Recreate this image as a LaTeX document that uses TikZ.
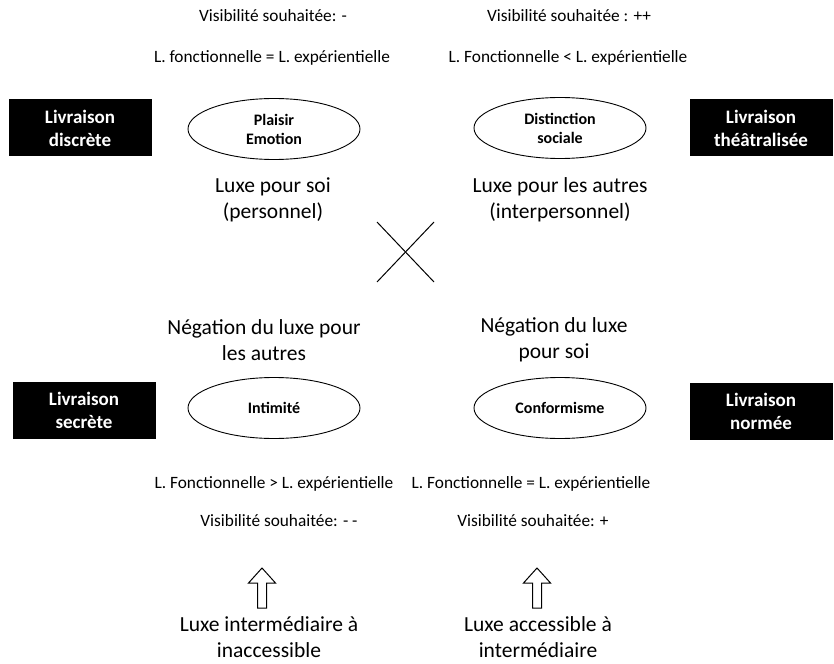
\documentclass[tikz,border=0pt]{standalone}
\usepackage{fontspec}
\setmainfont{Carlito}
\usetikzlibrary{shapes.geometric}
\begin{document}
\begin{tikzpicture}[x=1pt,y=-1pt,
  small/.style={font=\fontsize{17.3}{20}\selectfont, inner sep=0pt, anchor=center},
  big/.style={font=\fontsize{21.5}{26}\selectfont, align=center, inner sep=0pt},
  blackbox/.style={fill=black, text=white, minimum width=143pt, minimum height=57pt, align=center, inner sep=0pt, font=\fontsize{19}{23}\selectfont\bfseries},
  oval/.style={ellipse, draw=black, line width=0.9pt, minimum width=172pt, minimum height=61pt, align=center, inner sep=0pt, font=\fontsize{16}{19}\selectfont\bfseries},
  blockarrow/.style={draw=black, line width=1pt, fill=white}
]
\useasboundingbox (0,0) rectangle (834,663);

% top texts
\node[small] (vtl) at (273,16) {Visibilité souhaitée: -};
\node[small] (ltl) at (272,58) {L. fonctionnelle = L. expérientielle};
\node[small] (vtr) at (569,16) {Visibilité souhaitée : ++};
\node[small] (ltr) at (568,58) {L. Fonctionnelle < L. expérientielle};

% top row
\node[blackbox] (b1) at (80,128) {Livraison\\discrète};
\node[oval] (e1) at (274,129) {Plaisir\\Emotion};
\node[oval] (e2) at (560,128) {Distinction\\sociale};
\node[blackbox] (b2) at (761,128) {Livraison\\théâtralisée};

\node[big] (t1) at (273,200) {Luxe pour soi\\(personnel)};
\node[big] (t2) at (560,200) {Luxe pour les autres\\(interpersonnel)};

% cross
\coordinate (xa) at (377,222);
\coordinate (xb) at (434,282);
\coordinate (xc) at (434,222);
\coordinate (xd) at (377,282);
\draw[line width=1pt] (xa) -- (xb);
\draw[line width=1pt] (xc) -- (xd);

% bottom row
\node[big] (t3) at (264,340) {Négation du luxe pour\\les autres};
\node[big] (t4) at (554,340) {Négation du luxe\\pour soi};

\node[blackbox] (b3) at (84,410) {Livraison\\secrète};
\node[oval] (e3) at (274,408) {Intimité};
\node[oval] (e4) at (560,408) {Conformisme};
\node[blackbox] (b4) at (761,411) {Livraison\\normée};

\node[small] (lbl) at (274,484) {L. Fonctionnelle > L. expérientielle};
\node[small] (lbr) at (531,484) {L. Fonctionnelle = L. expérientielle};
\node[small] (vbl) at (279,521) {Visibilité souhaitée: - -};
\node[small] (vbr) at (533,521) {Visibilité souhaitée: +};

% block arrows
\draw[blockarrow] (262,568) -- (275.5,583) -- (266.5,583) -- (266.5,608) -- (257.5,608) -- (257.5,583) -- (248.5,583) -- cycle;
\draw[blockarrow] (537,568) -- (550.5,583) -- (541.5,583) -- (541.5,608) -- (532.5,608) -- (532.5,583) -- (523.5,583) -- cycle;

\node[big] (t5) at (269,637) {Luxe intermédiaire à\\inaccessible};
\node[big] (t6) at (538,637) {Luxe accessible à\\intermédiaire};
\end{tikzpicture}
\end{document}
